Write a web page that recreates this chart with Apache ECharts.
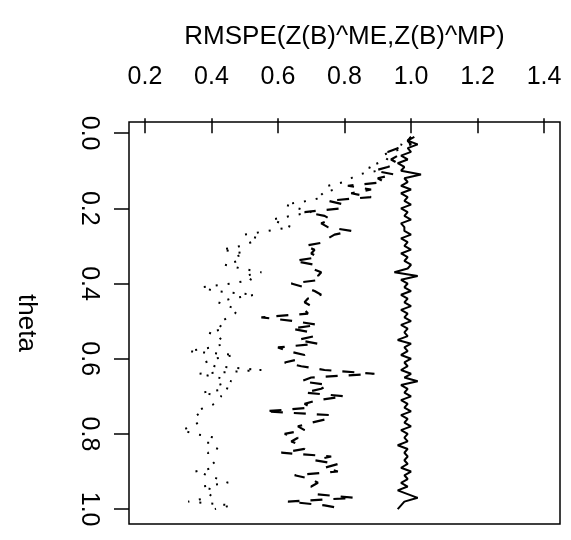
<!DOCTYPE html>
<html>
<head>
<meta charset="utf-8">
<script src="https://cdn.jsdelivr.net/npm/echarts@6/dist/echarts.min.js"></script>
<style>
html,body{margin:0;padding:0;background:#fff;}
#chart{width:571px;height:540px;}
</style>
</head>
<body>
<div id="chart"></div>
<script>
var theta = [0.01,0.02,0.03,0.04,0.05,0.06,0.07,0.08,0.09,0.10,
0.11,0.12,0.13,0.14,0.15,0.16,0.17,0.18,0.19,0.20,
0.21,0.22,0.23,0.24,0.25,0.26,0.27,0.28,0.29,0.30,
0.31,0.32,0.33,0.34,0.35,0.36,0.37,0.38,0.39,0.40,
0.41,0.42,0.43,0.44,0.45,0.46,0.47,0.48,0.49,0.50,
0.51,0.52,0.53,0.54,0.55,0.56,0.57,0.58,0.59,0.60,
0.61,0.62,0.63,0.64,0.65,0.66,0.67,0.68,0.69,0.70,
0.71,0.72,0.73,0.74,0.75,0.76,0.77,0.78,0.79,0.80,
0.81,0.82,0.83,0.84,0.85,0.86,0.87,0.88,0.89,0.90,
0.91,0.92,0.93,0.94,0.95,0.96,0.97,0.98,0.99,1.00];

var solidVals = [1.01,0.99,1.02,0.99,1.00,0.97,0.99,0.96,0.98,0.97,
1.03,0.98,0.99,0.97,1.00,0.97,0.99,0.98,1.00,0.97,
0.99,0.98,1.00,0.97,0.98,0.98,1.00,0.97,0.99,0.98,
1.00,0.97,0.99,0.98,1.00,0.99,0.95,1.02,0.97,0.99,
0.98,1.00,0.97,0.99,0.98,1.00,0.97,0.99,0.98,1.00,
0.97,0.99,0.98,0.99,0.96,1.00,0.98,0.99,0.97,1.00,
0.98,0.99,0.97,1.00,0.98,1.02,0.97,0.99,0.98,1.00,
0.97,0.99,0.98,1.00,0.97,0.99,0.98,1.00,0.97,0.99,
0.98,0.99,0.96,0.99,0.98,0.99,0.98,0.99,0.97,1.00,
0.98,0.99,0.97,0.99,0.96,0.99,1.02,0.98,0.97,0.96];

var dashedVals = [1.00,0.99,1.00,0.96,0.93,0.96,0.94,0.96,0.93,0.89,
0.95,0.90,0.92,0.81,0.88,0.82,0.88,0.75,0.80,0.79,
0.68,0.74,0.76,0.73,0.75,0.82,0.77,0.75,0.74,0.68,
0.71,0.70,0.72,0.65,0.71,0.70,0.73,0.72,0.73,0.64,
0.68,0.71,0.73,0.69,0.68,0.70,0.68,0.69,0.55,0.65,
0.72,0.64,0.70,0.71,0.66,0.72,0.60,0.63,0.68,0.67,
0.62,0.67,0.74,0.89,0.70,0.67,0.75,0.73,0.68,0.80,
0.72,0.68,0.70,0.56,0.76,0.75,0.70,0.66,0.68,0.62,
0.66,0.64,0.67,0.68,0.61,0.76,0.71,0.78,0.74,0.78,
0.65,0.70,0.72,0.70,0.71,0.71,0.83,0.63,0.74,0.80];

var dottedVals = [1.00,0.99,0.97,0.98,0.94,0.91,0.93,0.90,0.87,0.90,
0.84,0.82,0.80,0.75,0.77,0.73,0.74,0.69,0.62,0.66,
0.70,0.64,0.58,0.61,0.64,0.57,0.50,0.54,0.52,0.49,
0.43,0.50,0.47,0.48,0.44,0.49,0.55,0.50,0.52,0.46,
0.37,0.41,0.53,0.46,0.42,0.45,0.48,0.47,0.45,0.43,
0.42,0.44,0.39,0.42,0.43,0.44,0.40,0.33,0.47,0.41,
0.38,0.41,0.55,0.36,0.42,0.46,0.42,0.45,0.37,0.43,
0.42,0.41,0.38,0.35,0.36,0.37,0.36,0.34,0.31,0.35,
0.41,0.39,0.39,0.42,0.39,0.39,0.40,0.41,0.41,0.35,
0.39,0.42,0.45,0.37,0.41,0.40,0.39,0.33,0.46,0.41];

var xTicks = [0.2,0.4,0.6,0.8,1.0,1.2,1.4];
var yTicks = [0.0,0.2,0.4,0.6,0.8,1.0];

function pairs(vals){ return vals.map(function(v,i){ return [v, theta[i]]; }); }

var FONT = '"Liberation Sans", Arial, Helvetica, sans-serif';
var chart = echarts.init(document.getElementById('chart'), null, {renderer:'canvas'});
chart.setOption({
  animation:false,
  backgroundColor:'#ffffff',
  grid:{left:129, right:11, top:122, bottom:16, show:true, borderColor:'#000', borderWidth:1.5, backgroundColor:'transparent'},
  xAxis:{
    type:'value', position:'top', min:0.152, max:1.448,
    name:'RMSPE(Z(B)^ME,Z(B)^MP)', nameLocation:'middle', nameGap:72,
    nameTextStyle:{fontFamily:FONT, fontSize:26, color:'#000'},
    axisLine:{show:false},
    splitLine:{show:false},
    axisTick:{show:true, length:15, inside:false, customValues:xTicks, lineStyle:{color:'#000', width:1.5}},
    axisLabel:{show:true, customValues:xTicks, margin:32, fontFamily:FONT, fontSize:25, color:'#000',
      formatter:function(v){return v.toFixed(1);}}
  },
  yAxis:{
    type:'value', inverse:true, min:-0.0296, max:1.0396,
    name:'theta', nameLocation:'middle', nameGap:90, nameRotate:-90,
    nameTextStyle:{fontFamily:FONT, fontSize:26, color:'#000'},
    axisLine:{show:false},
    splitLine:{show:false},
    axisTick:{show:true, length:15, inside:false, customValues:yTicks, lineStyle:{color:'#000', width:1.5}},
    axisLabel:{show:true, customValues:yTicks, rotate:-90, margin:28, fontFamily:FONT, fontSize:25, color:'#000',
      formatter:function(v){return v.toFixed(1);}}
  },
  series:[
    {type:'line', data:pairs(solidVals), showSymbol:false, silent:true,
      lineStyle:{color:'#000', width:2, type:'solid'}},
    {type:'line', data:pairs(dashedVals), showSymbol:false, silent:true,
      lineStyle:{color:'#000', width:2.2, type:[12,11]}},
    {type:'line', data:pairs(dottedVals), showSymbol:false, silent:true,
      lineStyle:{color:'#000', width:2, type:[2,10]}}
  ]
});
</script>
</body>
</html>
